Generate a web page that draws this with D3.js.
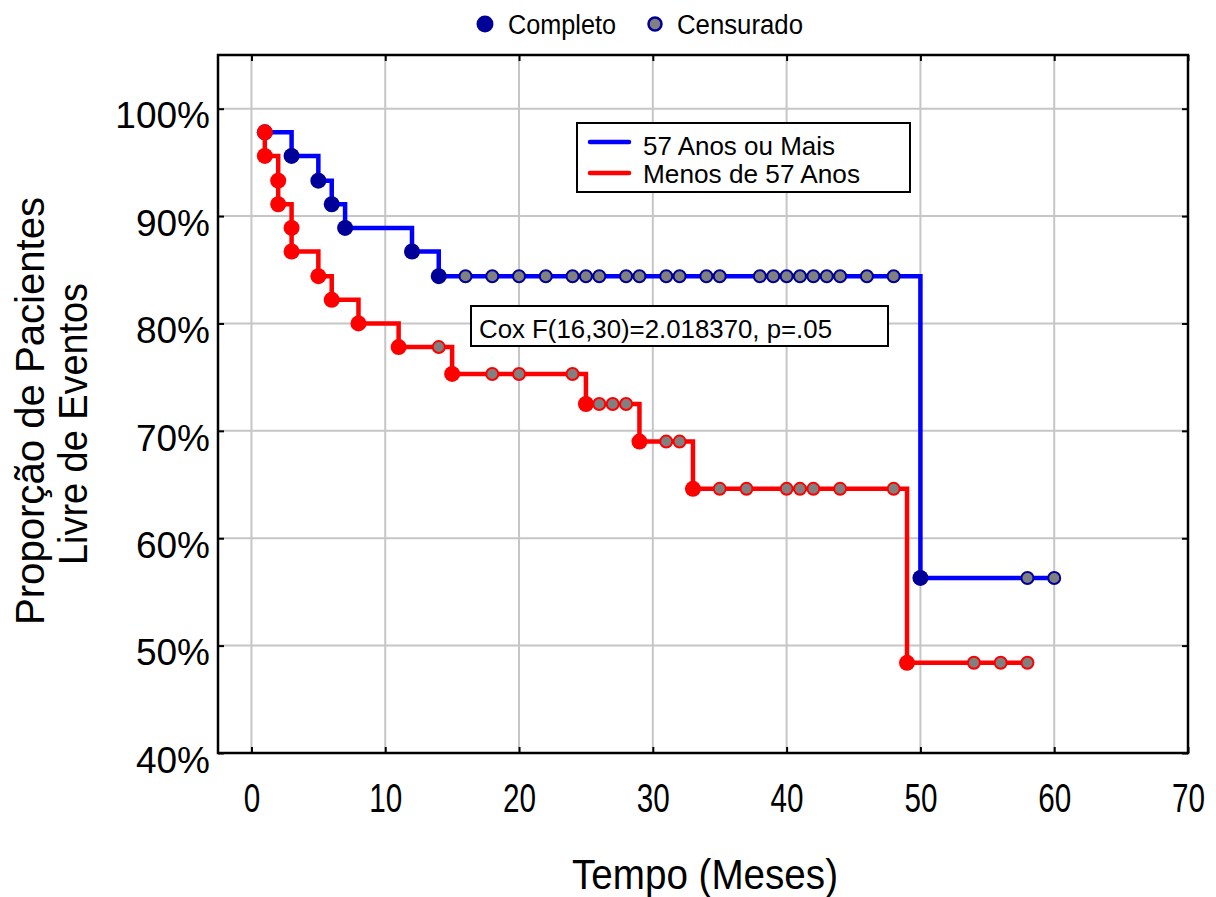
<!DOCTYPE html>
<html>
<head>
<meta charset="utf-8">
<script src="https://cdn.jsdelivr.net/npm/d3@7"></script>
<style>
  html, body { margin: 0; padding: 0; background: #fff; }
  svg { display: block; font-family: "Liberation Sans", Arial, sans-serif; }
</style>
</head>
<body>
<svg id="chart" width="1216" height="897"></svg>
<script>
// Kaplan-Meier style survival, two age groups (months, % event-free)
const olderEventTimes = [1, 3, 5, 6, 7, 12, 14, 50];
const olderEventSurv  = [97.8, 95.6, 93.3, 91.1, 88.9, 86.7, 84.4, 56.3];
const olderCensorTimes = [16, 18, 20, 22, 24, 25, 26, 28, 29, 31, 32, 34, 35, 38, 39, 40, 41, 42, 43, 44, 46, 48, 58, 60];
const olderCensorSurv  = [84.4, 84.4, 84.4, 84.4, 84.4, 84.4, 84.4, 84.4, 84.4, 84.4, 84.4, 84.4, 84.4, 84.4, 84.4, 84.4, 84.4, 84.4, 84.4, 84.4, 84.4, 84.4, 56.3, 56.3];

const youngerEventTimes = [1, 1, 2, 2, 3, 3, 5, 6, 8, 11, 15, 25, 29, 33, 49];
const youngerEventSurv  = [97.8, 95.6, 93.3, 91.1, 88.9, 86.7, 84.4, 82.2, 80.0, 77.8, 75.3, 72.5, 69.0, 64.6, 48.4];
const youngerCensorTimes = [14, 18, 20, 24, 26, 27, 28, 31, 32, 35, 37, 40, 41, 42, 44, 48, 54, 56, 58];
const youngerCensorSurv  = [77.8, 75.3, 75.3, 75.3, 72.5, 72.5, 72.5, 69.0, 69.0, 64.6, 64.6, 64.6, 64.6, 64.6, 64.6, 64.6, 48.4, 48.4, 48.4];

const xTicks = [0, 10, 20, 30, 40, 50, 60, 70];
const yTicks = [40, 50, 60, 70, 80, 90, 100];
const groupNames = ["57 Anos ou Mais", "Menos de 57 Anos"];
const statusNames = ["Completo", "Censurado"];
const coxText = "Cox F(16,30)=2.018370, p=.05";
const xTitle = "Tempo (Meses)";
const yTitleLines = ["Proporção de Pacientes", "Livre de Eventos"];

const svg = d3.select("#chart");
const frame = { left: 218, right: 1188, top: 55, bottom: 753 };

const x = d3.scaleLinear().domain([-2.5, 70]).range([frame.left, frame.right]);
const y = d3.scaleLinear().domain([40, 105]).range([frame.bottom, frame.top]);

// grid
const grid = svg.append("g").attr("stroke", "#c6c6c6").attr("stroke-width", 2);
grid.selectAll("line.v").data(xTicks).join("line")
  .attr("x1", d => x(d)).attr("x2", d => x(d))
  .attr("y1", frame.top).attr("y2", frame.bottom);
grid.selectAll("line.h").data(yTicks).join("line")
  .attr("x1", frame.left).attr("x2", frame.right)
  .attr("y1", d => y(d)).attr("y2", d => y(d));

// axes with inward ticks
const yAxis = svg.append("g")
  .attr("transform", `translate(${frame.left},0)`)
  .call(d3.axisLeft(y).tickValues(yTicks).tickSize(-6).tickPadding(14).tickFormat(d => d + "%"));
yAxis.select(".domain").remove();
yAxis.selectAll(".tick line").attr("stroke", "#000").attr("stroke-width", 2);
yAxis.selectAll(".tick text")
  .attr("font-size", 37).attr("fill", "#000")
  .attr("font-family", "Liberation Sans, Arial, sans-serif")
  .attr("x", -8).attr("dy", "0.52em");

const yAxisR = svg.append("g")
  .attr("transform", `translate(${frame.right},0)`)
  .call(d3.axisRight(y).tickValues(yTicks).tickSize(-6).tickFormat(""));
yAxisR.select(".domain").remove();
yAxisR.selectAll(".tick line").attr("stroke", "#000").attr("stroke-width", 2);

const xAxis = svg.append("g")
  .attr("transform", `translate(0,${frame.bottom})`)
  .call(d3.axisBottom(x).tickValues(xTicks).tickSize(-6).tickPadding(0));
xAxis.select(".domain").remove();
xAxis.selectAll(".tick line").attr("stroke", "#000").attr("stroke-width", 2);
xAxis.selectAll(".tick text")
  .attr("font-size", 40).attr("fill", "#000")
  .attr("font-family", "Liberation Sans, Arial, sans-serif")
  .attr("y", 59).attr("dy", 0)
  .attr("textLength", d => String(d).length * 16.5)
  .attr("lengthAdjust", "spacingAndGlyphs");

const xAxisT = svg.append("g")
  .attr("transform", `translate(0,${frame.top})`)
  .call(d3.axisTop(x).tickValues(xTicks).tickSize(-6).tickFormat(""));
xAxisT.select(".domain").remove();
xAxisT.selectAll(".tick line").attr("stroke", "#000").attr("stroke-width", 2);

// frame
svg.append("rect")
  .attr("x", frame.left).attr("y", frame.top)
  .attr("width", frame.right - frame.left).attr("height", frame.bottom - frame.top)
  .attr("fill", "none").attr("stroke", "#000").attr("stroke-width", 2.5);

// axis titles
svg.append("text")
  .attr("x", 705).attr("y", 889)
  .attr("text-anchor", "middle").attr("font-size", 42)
  .attr("textLength", 266).attr("lengthAdjust", "spacingAndGlyphs")
  .text(xTitle);

const yTitlePos = [{ cx: 44, cy: 411, len: 428 }, { cx: 87, cy: 424, len: 282 }];
yTitleLines.forEach((t, i) => {
  const p = yTitlePos[i];
  svg.append("text")
    .attr("transform", `translate(${p.cx},${p.cy}) rotate(-90)`)
    .attr("text-anchor", "middle").attr("font-size", 41)
    .attr("textLength", p.len).attr("lengthAdjust", "spacingAndGlyphs")
    .text(t);
});

// survival curves
function buildSeries(evT, evS, ceT, ceS) {
  const ev = evT.map((t, i) => ({ t, s: evS[i], censored: false }));
  const ce = ceT.map((t, i) => ({ t, s: ceS[i], censored: true }));
  const all = ev.concat(ce).map((d, i) => ({ ...d, i }));
  all.sort((a, b) => a.t - b.t || a.i - b.i);
  return all;
}

const series = [
  { pts: buildSeries(olderEventTimes, olderEventSurv, olderCensorTimes, olderCensorSurv),
    line: "#0000ff", dot: "#000099", border: "#000099" },
  { pts: buildSeries(youngerEventTimes, youngerEventSurv, youngerCensorTimes, youngerCensorSurv),
    line: "#ff0000", dot: "#ff0000", border: "#ff0000" }
];

const stepLine = d3.line().x(d => x(d.t)).y(d => y(d.s)).curve(d3.curveStepAfter);

series.forEach(sr => {
  const g = svg.append("g");
  g.append("path")
    .attr("d", stepLine(sr.pts))
    .attr("fill", "none").attr("stroke", sr.line).attr("stroke-width", 4.5)
    .attr("stroke-linejoin", "miter");
  g.selectAll("circle.ev").data(sr.pts.filter(d => !d.censored)).join("circle")
    .attr("cx", d => x(d.t)).attr("cy", d => y(d.s)).attr("r", 8)
    .attr("fill", sr.dot);
  g.selectAll("circle.ce").data(sr.pts.filter(d => d.censored)).join("circle")
    .attr("cx", d => x(d.t)).attr("cy", d => y(d.s)).attr("r", 6)
    .attr("fill", "#808080").attr("stroke", sr.border).attr("stroke-width", 2);
});

// group legend
const lg = svg.append("g");
lg.append("rect").attr("x", 577).attr("y", 123).attr("width", 333).attr("height", 69)
  .attr("fill", "#fff").attr("stroke", "#000").attr("stroke-width", 2);
const lgRows = [{ y: 142, base: 155, len: 192 }, { y: 173, base: 183, len: 217 }];
groupNames.forEach((n, i) => {
  lg.append("line").attr("x1", 590).attr("x2", 629)
    .attr("y1", lgRows[i].y).attr("y2", lgRows[i].y)
    .attr("stroke", series[i].line).attr("stroke-width", 4.5).attr("stroke-linecap", "round");
  lg.append("text").attr("x", 643).attr("y", lgRows[i].base)
    .attr("font-size", 25)
    .attr("textLength", lgRows[i].len).attr("lengthAdjust", "spacingAndGlyphs")
    .text(n);
});

// Cox test annotation
svg.append("rect").attr("x", 471).attr("y", 306).attr("width", 417).attr("height", 40)
  .attr("fill", "#fff").attr("stroke", "#000").attr("stroke-width", 2);
svg.append("text").attr("x", 479).attr("y", 338).attr("font-size", 26)
  .attr("textLength", 353).attr("lengthAdjust", "spacingAndGlyphs")
  .text(coxText);

// status legend
const sl = svg.append("g");
sl.append("circle").attr("cx", 485).attr("cy", 24).attr("r", 8.5).attr("fill", "#000099");
sl.append("text").attr("x", 508).attr("y", 34).attr("font-size", 27)
  .attr("textLength", 108).attr("lengthAdjust", "spacingAndGlyphs").text(statusNames[0]);
sl.append("circle").attr("cx", 655).attr("cy", 24).attr("r", 6.5)
  .attr("fill", "#808080").attr("stroke", "#000099").attr("stroke-width", 2.5);
sl.append("text").attr("x", 677).attr("y", 34).attr("font-size", 27)
  .attr("textLength", 126).attr("lengthAdjust", "spacingAndGlyphs").text(statusNames[1]);
</script>
</body>
</html>
